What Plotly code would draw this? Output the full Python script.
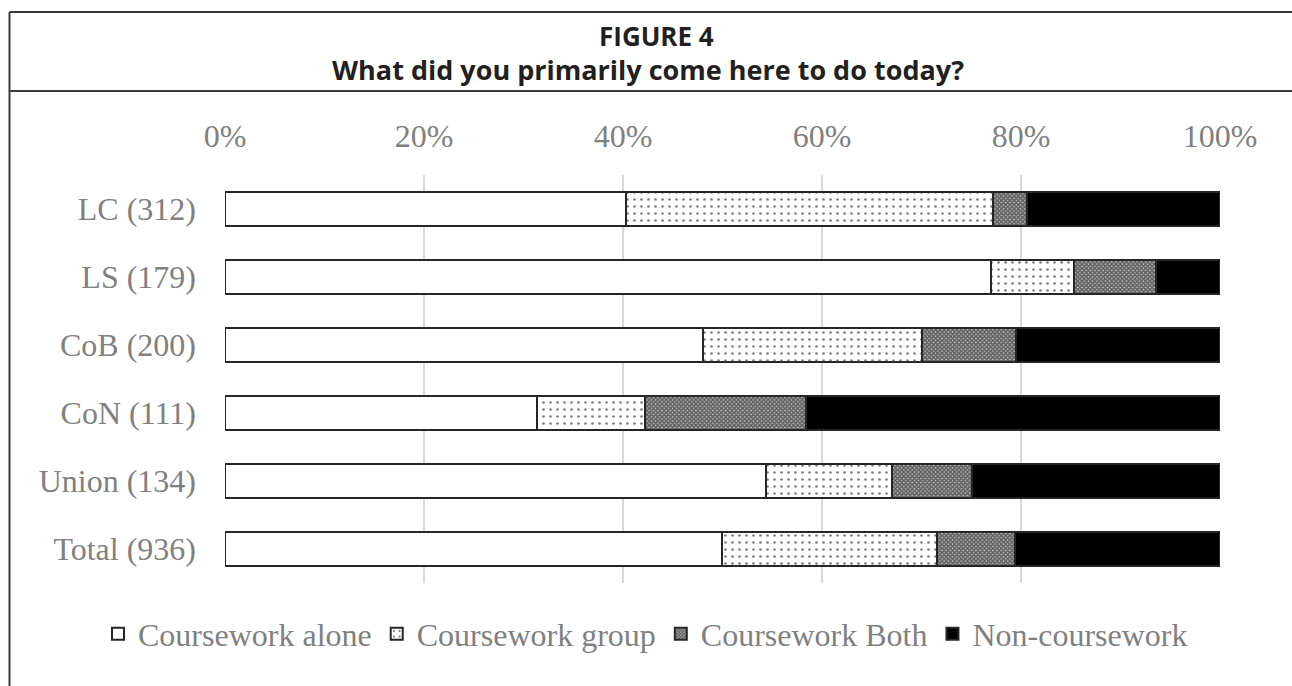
import plotly.graph_objects as go

categories = ["LC (312)", "LS (179)", "CoB (200)", "CoN (111)", "Union (134)", "Total (936)"]
series_names = ["Coursework alone", "Coursework group", "Coursework Both", "Non-coursework"]
coursework_alone = [40.3, 77.0, 48.0, 31.4, 54.4, 49.9]
coursework_group = [36.9, 8.3, 22.0, 10.8, 12.6, 21.7]
coursework_both = [3.4, 8.3, 9.5, 16.2, 8.1, 7.8]
non_coursework = [19.4, 6.4, 20.5, 41.6, 24.9, 20.6]
tick_values = [0, 0.2, 0.4, 0.6, 0.8, 1.0]
tick_labels = ["0%", "20%", "40%", "60%", "80%", "100%"]

values = [coursework_alone, coursework_group, coursework_both, non_coursework]
styles = [
    dict(color="white", pattern=dict(shape="")),
    dict(color="white", pattern=dict(shape=".", fgcolor="black", bgcolor="white", size=7, solidity=0.12)),
    dict(color="white", pattern=dict(shape="x", fgcolor="black", bgcolor="#c8c8c8", size=3, solidity=0.8)),
    dict(color="black", pattern=dict(shape="")),
]

W, H = 1292, 686
L, R, T, B = 225, 72, 175, 103
pw, ph = W - L - R, H - T - B

def px(x):
    return (x - L) / pw

def py(y):
    return (H - B - y) / ph

fig = go.Figure()
for name, vals, st in zip(series_names, values, styles):
    fig.add_trace(go.Bar(
        y=categories, x=[v / 100 for v in vals], name=name, orientation="h",
        width=0.5,
        marker=dict(color=st["color"], pattern=st["pattern"], line=dict(color="#262626", width=2)),
    ))

serif = "Liberation Serif, Times New Roman, serif"
gray = "#808080"
FS = 32
fig.update_layout(
    width=W, height=H,
    margin=dict(l=L, r=R, t=T, b=B, pad=0),
    barmode="stack",
    plot_bgcolor="white", paper_bgcolor="white",
    font=dict(family=serif, size=FS, color=gray),
    xaxis=dict(side="top", range=[0, 1], tickvals=tick_values, ticktext=tick_labels,
               showgrid=True, gridcolor="#d9d9d9", gridwidth=1.5, zeroline=False,
               showline=False, ticks="", ticklabelstandoff=21,
               tickfont=dict(family=serif, size=FS, color=gray)),
    yaxis=dict(autorange="reversed", showgrid=False, zeroline=False, showline=False,
               ticks="", ticklabelstandoff=28,
               tickfont=dict(family=serif, size=FS, color=gray)),
    legend=dict(orientation="h", x=px(98), xanchor="left", y=py(634), yanchor="middle",
                font=dict(family=serif, size=FS, color=gray), traceorder="normal",
                itemwidth=30, bgcolor="rgba(0,0,0,0)"),
    showlegend=True,
)

line_style = dict(color="#3a3a3a", width=2)
fig.add_shape(type="line", xref="paper", yref="paper", x0=px(9.5), x1=px(1300), y0=py(12), y1=py(12), line=line_style)
fig.add_shape(type="line", xref="paper", yref="paper", x0=px(9.5), x1=px(1300), y0=py(91), y1=py(91), line=line_style)
fig.add_shape(type="line", xref="paper", yref="paper", x0=px(9.5), x1=px(9.5), y0=py(12), y1=py(700), line=line_style)

title_family = "Open Sans, Roboto, sans-serif"
fig.add_annotation(text="<b>FIGURE 4</b>", xref="paper", yref="paper", x=px(656), y=py(36),
                   showarrow=False, font=dict(family=title_family, size=26, color="#231f20"),
                   xanchor="center", yanchor="middle")
fig.add_annotation(text="<b>What did you primarily come here to do today?</b>", xref="paper", yref="paper",
                   x=px(648), y=py(69), showarrow=False,
                   font=dict(family=title_family, size=27, color="#231f20"),
                   xanchor="center", yanchor="middle")

fig.write_html("out.html")
